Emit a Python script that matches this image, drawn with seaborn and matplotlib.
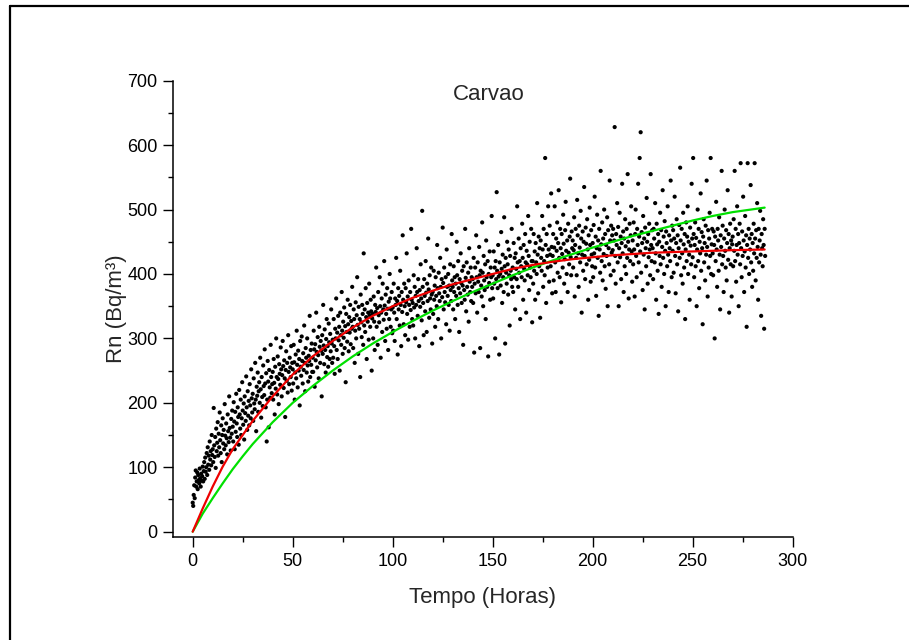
import numpy as np
import pandas as pd
import matplotlib
matplotlib.use("Agg")
import matplotlib.pyplot as plt
from matplotlib.lines import Line2D
from matplotlib.ticker import MultipleLocator
import seaborn as sns

# ---------------- data ----------------
title = "Carvao"
x_label = "Tempo (Horas)"
y_label = "Rn (Bq/m³)"
x_ticks = [0, 50, 100, 150, 200, 250, 300]
y_ticks = [0, 100, 200, 300, 400, 500, 600, 700]

step_hours = 0.25  # measurement interval
block_starts = [0, 10, 20, 30, 40, 50, 60, 70, 80, 90, 100, 110, 120, 130,
                140, 150, 160, 170, 180, 190, 200, 210, 220, 230, 240, 250,
                260, 270, 280]
rn_blocks = [
    [45, 40, 57, 72, 52, 84, 95, 70, 78, 92, 66, 88, 80, 75, 98, 83, 70, 90, 79, 86, 101, 78, 94, 108, 82, 115, 93, 100, 122, 88, 131, 104, 118, 96, 140, 112, 125, 103, 150, 119],
    [128, 108, 192, 134, 116, 147, 99, 160, 125, 138, 170, 118, 152, 131, 185, 142, 122, 165, 108, 150, 176, 137, 158, 128, 198, 149, 134, 168, 145, 120, 182, 156, 139, 210, 161, 146, 126, 175, 152, 188],
    [163, 140, 201, 171, 128, 186, 155, 214, 168, 147, 193, 178, 135, 220, 182, 160, 205, 150, 176, 232, 188, 166, 199, 143, 210, 184, 172, 241, 193, 158, 218, 180, 203, 165, 229, 196, 176, 252, 207, 185],
    [214, 172, 238, 199, 190, 262, 205, 156, 225, 211, 247, 186, 218, 232, 200, 270, 221, 177, 240, 209, 195, 258, 226, 212, 283, 230, 193, 246, 140, 205, 265, 233, 162, 251, 224, 208, 290, 240, 215, 229],
    [248, 205, 268, 231, 182, 256, 222, 300, 240, 213, 272, 237, 198, 260, 245, 228, 286, 252, 210, 243, 296, 257, 223, 266, 238, 178, 251, 280, 234, 262, 216, 305, 248, 229, 270, 255, 240, 288, 219, 262],
    [252, 230, 290, 263, 205, 247, 275, 238, 312, 259, 224, 281, 250, 268, 196, 296, 256, 242, 303, 265, 230, 277, 251, 320, 262, 218, 285, 270, 247, 300, 258, 233, 273, 265, 335, 240, 282, 259, 292, 248],
    [270, 248, 312, 283, 225, 291, 266, 340, 279, 255, 302, 274, 238, 318, 287, 262, 296, 281, 210, 305, 276, 352, 289, 260, 314, 282, 247, 299, 330, 271, 288, 256, 323, 294, 268, 307, 280, 345, 292, 262],
    [298, 270, 330, 288, 245, 315, 300, 362, 282, 309, 268, 335, 297, 318, 250, 340, 305, 290, 372, 312, 276, 326, 301, 348, 285, 319, 232, 338, 310, 295, 360, 322, 280, 333, 309, 352, 291, 327, 315, 380],
    [318, 285, 345, 330, 262, 312, 356, 300, 336, 395, 321, 276, 349, 315, 330, 240, 368, 325, 302, 352, 338, 290, 432, 320, 345, 310, 378, 333, 268, 355, 326, 340, 298, 385, 336, 318, 360, 342, 250, 331],
    [338, 300, 365, 326, 282, 352, 341, 410, 318, 347, 290, 372, 336, 325, 395, 350, 270, 340, 362, 310, 385, 345, 329, 420, 351, 296, 368, 338, 315, 378, 346, 282, 357, 330, 400, 362, 318, 345, 372, 308],
    [348, 312, 385, 340, 296, 362, 352, 425, 330, 358, 275, 378, 345, 366, 320, 405, 352, 288, 372, 341, 460, 360, 322, 385, 350, 305, 378, 356, 432, 338, 365, 298, 390, 352, 318, 372, 344, 470, 360, 330],
    [355, 320, 398, 348, 380, 300, 366, 352, 440, 372, 335, 392, 358, 288, 375, 349, 415, 362, 328, 498, 380, 355, 305, 392, 366, 342, 420, 371, 310, 385, 358, 455, 376, 332, 398, 362, 345, 410, 368, 292],
    [372, 338, 405, 360, 382, 318, 395, 366, 350, 445, 378, 330, 402, 370, 358, 425, 380, 300, 392, 364, 472, 386, 345, 410, 372, 356, 395, 322, 438, 380, 366, 400, 352, 382, 312, 415, 375, 358, 462, 390],
    [380, 345, 412, 372, 395, 330, 385, 366, 450, 398, 352, 420, 378, 310, 392, 370, 432, 386, 355, 405, 382, 290, 412, 375, 360, 470, 394, 342, 418, 380, 368, 402, 326, 440, 388, 372, 410, 358, 395, 380],
    [392, 355, 425, 278, 385, 410, 370, 460, 395, 340, 418, 388, 372, 442, 398, 285, 405, 382, 365, 480, 402, 350, 428, 390, 375, 415, 330, 452, 395, 380, 420, 272, 400, 386, 435, 360, 410, 395, 490, 378],
    [398, 362, 435, 385, 410, 300, 420, 392, 527, 405, 378, 445, 396, 275, 418, 400, 382, 465, 408, 355, 430, 395, 372, 488, 412, 292, 425, 402, 385, 450, 415, 368, 438, 398, 320, 428, 405, 392, 470, 380],
    [410, 372, 448, 395, 425, 345, 432, 408, 392, 505, 418, 380, 455, 402, 420, 330, 440, 412, 395, 478, 425, 360, 445, 408, 390, 462, 418, 340, 436, 415, 398, 490, 428, 375, 450, 410, 395, 470, 420, 325],
    [420, 385, 462, 405, 435, 360, 448, 418, 400, 510, 430, 370, 458, 412, 440, 332, 452, 425, 405, 490, 438, 380, 470, 420, 398, 580, 445, 355, 462, 428, 410, 505, 438, 388, 475, 430, 412, 525, 442, 370],
    [428, 462, 390, 441, 505, 418, 372, 455, 436, 480, 402, 448, 530, 425, 395, 470, 440, 356, 462, 431, 410, 492, 447, 385, 423, 468, 512, 436, 400, 452, 372, 478, 433, 415, 458, 548, 426, 398, 466, 440],
    [452, 410, 437, 488, 365, 445, 470, 425, 398, 515, 460, 432, 380, 475, 441, 418, 498, 455, 340, 430, 466, 405, 450, 535, 428, 392, 472, 447, 415, 485, 438, 360, 460, 422, 503, 445, 388, 468, 430, 412],
    [448, 395, 476, 432, 520, 410, 458, 366, 440, 492, 425, 452, 335, 470, 438, 402, 560, 446, 420, 480, 390, 455, 431, 500, 412, 462, 377, 445, 428, 488, 350, 468, 440, 415, 545, 452, 398, 475, 433, 460],
    [437, 470, 405, 452, 628, 428, 385, 462, 445, 510, 418, 473, 350, 440, 495, 426, 458, 392, 448, 540, 432, 466, 372, 455, 412, 485, 443, 400, 470, 425, 555, 450, 362, 438, 478, 420, 460, 505, 435, 388],
    [452, 415, 480, 438, 365, 462, 500, 428, 395, 470, 445, 540, 418, 458, 580, 435, 620, 402, 465, 448, 375, 490, 430, 455, 345, 472, 440, 412, 518, 450, 385, 462, 426, 478, 438, 398, 555, 445, 420, 468],
    [440, 392, 470, 455, 418, 510, 432, 360, 478, 446, 405, 462, 338, 450, 428, 495, 415, 468, 380, 442, 530, 425, 458, 400, 482, 436, 350, 466, 448, 412, 505, 430, 372, 460, 440, 420, 545, 452, 395, 475],
    [436, 468, 402, 455, 520, 428, 370, 448, 485, 415, 460, 342, 440, 476, 425, 565, 452, 398, 470, 432, 385, 495, 446, 410, 462, 330, 438, 480, 420, 458, 505, 400, 450, 430, 360, 472, 444, 415, 540, 455],
    [426, 580, 462, 395, 445, 480, 412, 456, 350, 438, 500, 420, 470, 378, 450, 432, 525, 405, 465, 440, 322, 458, 485, 418, 448, 390, 475, 430, 545, 442, 365, 468, 410, 455, 495, 428, 580, 400, 446, 470],
    [432, 398, 466, 445, 300, 458, 420, 512, 438, 380, 470, 452, 405, 488, 430, 345, 460, 442, 560, 415, 475, 428, 372, 455, 500, 436, 410, 468, 390, 448, 530, 422, 462, 340, 440, 478, 415, 452, 365, 446],
    [458, 412, 485, 436, 560, 420, 470, 388, 445, 505, 430, 462, 350, 448, 478, 415, 572, 440, 395, 466, 428, 520, 452, 372, 435, 490, 410, 460, 318, 445, 572, 425, 470, 400, 455, 438, 538, 418, 462, 380],
    [448, 405, 478, 432, 572, 455, 390, 468, 425, 510, 442, 360, 470, 418, 452, 498, 430, 335, 462, 440, 412, 485, 445, 315, 470, 428],
]

# fitted curves
fit_hours = [0, 5, 10, 15, 20, 25, 30, 40, 50, 60, 70, 80, 90, 100, 110, 120, 130,
             140, 150, 160, 170, 180, 190, 200, 210, 220, 230, 240, 250, 260, 270, 286]
fit_red = [0, 36, 70, 101, 128, 150, 172, 210, 244, 272, 296, 317, 335, 350, 363, 374, 384,
           392, 400, 408, 414, 419, 423, 426, 429, 431, 433, 434, 435, 436, 437, 438]
fit_green = [0, 28, 52, 75, 97, 117, 136, 170, 200, 226, 250, 272, 292, 310, 327, 343, 358,
             372, 385, 398, 410, 421, 431, 441, 450, 459, 467, 475, 483, 490, 496, 503]

# ---------------- frame ----------------
rows = []
for start, vals in zip(block_starts, rn_blocks):
    for i, v in enumerate(vals):
        rows.append((start + i * step_hours, v))
scatter_df = pd.DataFrame(rows, columns=["hours", "rn"])
red_df = pd.DataFrame({"hours": fit_hours, "rn": fit_red})
green_df = pd.DataFrame({"hours": fit_hours, "rn": fit_green})

sns.set_style("ticks")
plt.rcParams["font.family"] = ["Liberation Sans", "DejaVu Sans"]

fig = plt.figure(figsize=(9.09, 6.40), dpi=100)
ax = fig.add_axes([0.190, 0.1614, 0.682, 0.7125])

sns.scatterplot(data=scatter_df, x="hours", y="rn", ax=ax, color="black",
                s=9, linewidth=0, edgecolor="none", zorder=2)
sns.lineplot(data=green_df, x="hours", y="rn", ax=ax, color="#00e000",
             linewidth=1.6, zorder=3)
sns.lineplot(data=red_df, x="hours", y="rn", ax=ax, color="#ee0000",
             linewidth=1.6, zorder=4)

ax.set_xlim(-10, 300)
ax.set_ylim(-7.8, 700)
ax.set_xticks(x_ticks)
ax.set_yticks(y_ticks)
ax.xaxis.set_minor_locator(MultipleLocator(25))
ax.yaxis.set_minor_locator(MultipleLocator(50))
for side in ["top", "right"]:
    ax.spines[side].set_visible(False)
for side in ["left", "bottom"]:
    ax.spines[side].set_linewidth(1.1)
    ax.spines[side].set_color("black")
ax.tick_params(which="major", direction="out", length=7, width=1.0,
               labelsize=13, colors="black", pad=4)
ax.tick_params(which="minor", direction="out", length=3.5, width=1.0, colors="black")
ax.tick_params(axis="x", which="major", pad=5)

ax.set_xlabel(x_label, fontsize=16, labelpad=12)
ax.set_ylabel(y_label, fontsize=16, labelpad=0)
ax.text(148, 678, title, fontsize=16, ha="center", va="center")

# outer frame (left and top edges)
fig.add_artist(Line2D([9.5 / 909, 9.5 / 909], [0, 1 - 6 / 640], color="black",
                      linewidth=1.6, transform=fig.transFigure))
fig.add_artist(Line2D([9.5 / 909, 1], [1 - 6 / 640, 1 - 6 / 640], color="black",
                      linewidth=1.6, transform=fig.transFigure))

fig.savefig("out.png", dpi=100, facecolor="white")
